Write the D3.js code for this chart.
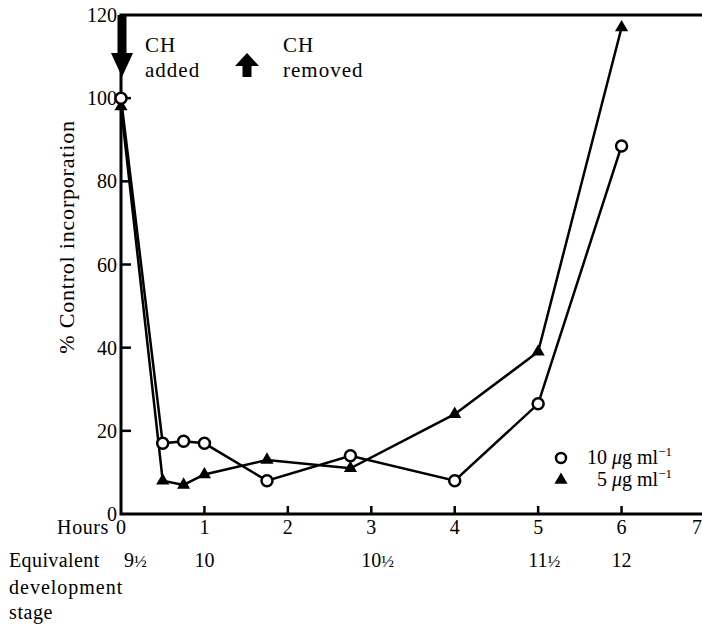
<!DOCTYPE html>
<html>
<head>
<meta charset="utf-8">
<script src="https://cdn.jsdelivr.net/npm/d3@7"></script>
<style>
  body { margin: 0; background: #fff; }
  svg text { font-family: "Liberation Serif", "DejaVu Serif", serif; fill: #000; }
</style>
</head>
<body>
<div id="chart"></div>
<script>
// hours after CH added
let hours = [0, 0.5, 0.75, 1, 1.75, 2.75, 4, 5, 6];
// % control incorporation
let conc10 = [100, 17, 17.5, 17, 8, 14, 8, 26.5, 88.5];
let conc5 = [98, 8, 7, 9.5, 13, 11, 24, 39, 117];

let hourTicks = [0, 1, 2, 3, 4, 5, 6, 7];
let yTicks = [0, 20, 40, 60, 80, 100, 120];
let stageHours = [0, 1, 3, 5, 6];
let stageInts = ['9', '10', '10', '11', '12'];
let stageHalf = [true, false, true, true, false];

const width = 702, height = 625;
let svg = d3.select('#chart').append('svg')
    .attr('width', width)
    .attr('height', height);

let x = d3.scaleLinear().domain([0, 7]).range([121, 705]);
let y = d3.scaleLinear().domain([0, 120]).range([514, 15]);

// frame: left, top, bottom
svg.append('path')
    .attr('d', `M${width},${y(120)}H${x(0)}V${y(0)}H${width}`)
    .attr('fill', 'none')
    .attr('stroke', '#000')
    .attr('stroke-width', 3);

// y ticks (inward)
svg.selectAll('.ytick').data(yTicks.filter(d => d > 0 && d < 120)).enter()
    .append('line')
        .attr('x1', x(0)).attr('x2', x(0) + 10)
        .attr('y1', d => y(d)).attr('y2', d => y(d))
        .attr('stroke', '#000').attr('stroke-width', 2.5);

svg.selectAll('.ylab').data(yTicks).enter()
    .append('text')
        .attr('x', x(0) - 4)
        .attr('y', d => y(d) + 7)
        .attr('text-anchor', 'end')
        .attr('font-size', 20)
        .text(d => d);

// x ticks (inward)
svg.selectAll('.xtick').data(hourTicks.filter(d => d > 0 && d < 7)).enter()
    .append('line')
        .attr('x1', d => x(d)).attr('x2', d => x(d))
        .attr('y1', y(0)).attr('y2', y(0) - 8)
        .attr('stroke', '#000').attr('stroke-width', 2.5);

svg.selectAll('.xlab').data(hourTicks).enter()
    .append('text')
        .attr('x', d => d == 7 ? width : x(d))
        .attr('y', 534)
        .attr('text-anchor', d => d == 7 ? 'end' : 'middle')
        .attr('font-size', 20)
        .text(d => d);

svg.append('text').attr('x', 109).attr('y', 534)
    .attr('text-anchor', 'end').attr('font-size', 20)
    .attr('letter-spacing', 0.6).text('Hours');

// equivalent development stage row
let stage = svg.selectAll('.stage').data(stageHours).enter()
    .append('text')
        .attr('x', (d, i) => d == 0 ? x(d) + 3 : x(d) - 5 * stageInts[i].length)
        .attr('y', 567)
        .attr('font-size', 20);
stage.append('tspan').text((d, i) => stageInts[i]);
stage.append('tspan')
    .attr('font-size', 17)
    .text((d, i) => stageHalf[i] ? '½' : '');

svg.append('text').attr('x', 9).attr('y', 567).attr('font-size', 20)
    .attr('letter-spacing', 0.4).text('Equivalent');
svg.append('text').attr('x', 9).attr('y', 594).attr('font-size', 20)
    .attr('letter-spacing', 1).text('development');
svg.append('text').attr('x', 9).attr('y', 619).attr('font-size', 20)
    .attr('letter-spacing', 0.6).text('stage');

// y axis title
svg.append('text')
    .attr('transform', 'translate(74,237) rotate(-90)')
    .attr('text-anchor', 'middle')
    .attr('font-size', 22)
    .attr('letter-spacing', 0.8)
    .text('% Control incorporation');

// series
let line = d3.line().x(d => x(d[0])).y(d => y(d[1]));
let s10 = hours.map((h, i) => [h, conc10[i]]);
let s5 = hours.map((h, i) => [h, conc5[i]]);

[s5, s10].forEach(s => {
    svg.append('path')
        .attr('d', line(s))
        .attr('fill', 'none')
        .attr('stroke', '#000')
        .attr('stroke-width', 2.5);
});

let tri = d3.symbol().type(d3.symbolTriangle).size(75);
svg.selectAll('.tri').data(s5).enter()
    .append('path')
        .attr('d', tri)
        .attr('transform', d => `translate(${x(d[0])},${y(d[1])})`)
        .attr('fill', '#000');

svg.selectAll('.circ').data(s10).enter()
    .append('circle')
        .attr('cx', d => x(d[0]))
        .attr('cy', d => y(d[1]))
        .attr('r', 5.5)
        .attr('fill', '#fff')
        .attr('stroke', '#000')
        .attr('stroke-width', 2.5);

// CH added / removed arrows
let ax = x(0) + 1;
svg.append('rect').attr('x', ax - 4.5).attr('y', y(120)).attr('width', 9).attr('height', 40).attr('fill', '#000');
svg.append('path').attr('d', `M${ax - 11},53L${ax + 11},53L${ax},77Z`).attr('fill', '#000');
svg.append('text').attr('x', 145).attr('y', 52).attr('font-size', 21).attr('letter-spacing', 1).text('CH');
svg.append('text').attr('x', 145).attr('y', 77).attr('font-size', 21).attr('letter-spacing', 1).text('added');

let rx = 247;
svg.append('path').attr('d', `M${rx - 12},66L${rx + 12},66L${rx},53Z`).attr('fill', '#000');
svg.append('rect').attr('x', rx - 4.5).attr('y', 65).attr('width', 9).attr('height', 12).attr('fill', '#000');
svg.append('text').attr('x', 283).attr('y', 52).attr('font-size', 21).attr('letter-spacing', 1).text('CH');
svg.append('text').attr('x', 283).attr('y', 77).attr('font-size', 21).attr('letter-spacing', 1).text('removed');

// legend
let lg = svg.append('g');
lg.append('circle').attr('cx', 561).attr('cy', 458).attr('r', 5).attr('fill', '#fff')
    .attr('stroke', '#000').attr('stroke-width', 2.5);
lg.append('path').attr('d', tri).attr('transform', 'translate(561,480)').attr('fill', '#000');
lg.append('text').attr('x', 672).attr('y', 464).attr('text-anchor', 'end').attr('font-size', 20)
    .html('10 <tspan font-style="italic">μ</tspan>g ml<tspan dy="-8" font-size="13">−1</tspan>');
lg.append('text').attr('x', 672).attr('y', 486).attr('text-anchor', 'end').attr('font-size', 20)
    .html('5 <tspan font-style="italic">μ</tspan>g ml<tspan dy="-8" font-size="13">−1</tspan>');
</script>
</body>
</html>
